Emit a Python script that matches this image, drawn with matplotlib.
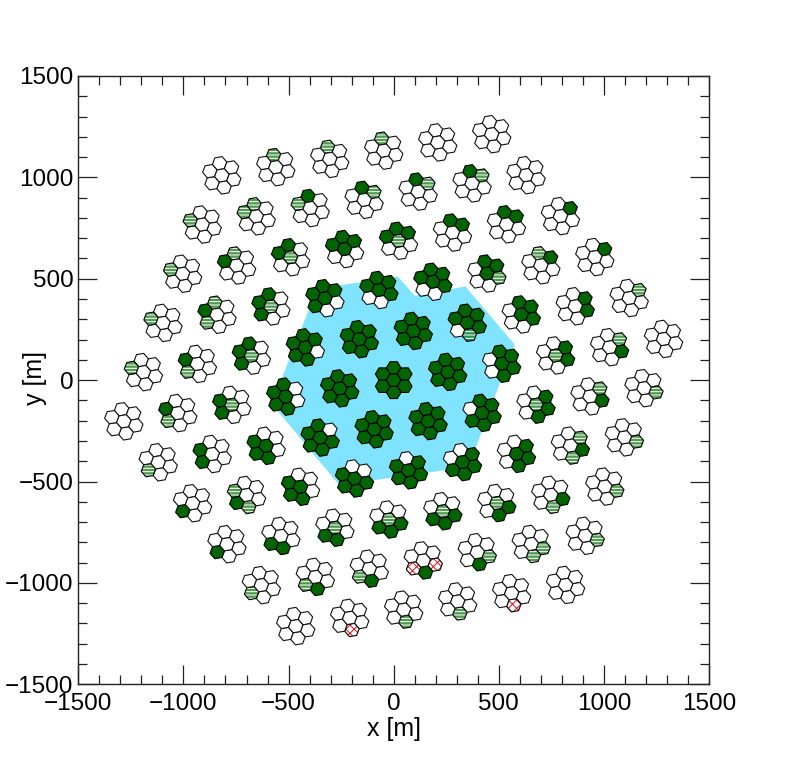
#!/usr/bin/env python
# -*- coding: utf-8 -*-

import numpy as np
import matplotlib
matplotlib.use('Agg')
import matplotlib.pyplot as plt
from matplotlib.patches import Polygon
from matplotlib.ticker import MultipleLocator

plt.rcParams['font.family'] = ['Liberation Sans', 'DejaVu Sans']
plt.rcParams['hatch.linewidth'] = 0.7

# cluster centres in metres, row by row from the top
cluster_x = [
    -817.5, -560.8, -304.1, -47.4, 209.3, 466,
    -910.7, -654, -397.3, -140.6, 116.1, 372.8, 629.5,
    -1003.9, -747.2, -490.5, -233.8, 22.9, 279.6, 536.3, 793,
    -1097.1, -840.4, -583.7, -327, -70.3, 186.4, 443.1, 699.8, 956.5,
    -1190.3, -933.6, -676.9, -420.2, -163.5, 93.2, 349.9, 606.6, 863.3, 1120,
    -1283.5, -1026.8, -770.1, -513.4, -256.7, 0, 256.7, 513.4, 770.1, 1026.8, 1283.5,
    -1120, -863.3, -606.6, -349.9, -93.2, 163.5, 420.2, 676.9, 933.6, 1190.3,
    -956.5, -699.8, -443.1, -186.4, 70.3, 327, 583.7, 840.4, 1097.1,
    -793, -536.3, -279.6, -22.9, 233.8, 490.5, 747.2, 1003.9,
    -629.5, -372.8, -116.1, 140.6, 397.3, 654, 910.7,
    -466, -209.3, 47.4, 304.1, 560.8, 817.5,
]
cluster_y = [
    1010, 1050.6, 1091.2, 1131.8, 1172.4, 1213,
    767.4, 808, 848.6, 889.2, 929.8, 970.4, 1011,
    524.8, 565.4, 606, 646.6, 687.2, 727.8, 768.4, 809,
    282.2, 322.8, 363.4, 404, 444.6, 485.2, 525.8, 566.4, 607,
    39.6, 80.2, 120.8, 161.4, 202, 242.6, 283.2, 323.8, 364.4, 405,
    -203, -162.4, -121.8, -81.2, -40.6, 0, 40.6, 81.2, 121.8, 162.4, 203,
    -405, -364.4, -323.8, -283.2, -242.6, -202, -161.4, -120.8, -80.2, -39.6,
    -607, -566.4, -525.8, -485.2, -444.6, -404, -363.4, -322.8, -282.2,
    -809, -768.4, -727.8, -687.2, -646.6, -606, -565.4, -524.8,
    -1011, -970.4, -929.8, -889.2, -848.6, -808, -767.4,
    -1213, -1172.4, -1131.8, -1091.2, -1050.6, -1010,
]

# one letter per telescope: top, upper right, lower right, bottom, lower left, upper left, centre
# . = empty, g = green, h = hatched, x = red crossed
cluster_state = [
    '.......', 'h......', 'h......', 'h......', '.......', '.......',
    '.....h.', 'h....h.', 'g....h.', 'gh.....', 'gh.....', 'gh.....', '.......',
    '.....h.', 'h....g.', 'g....gh', 'gg...gg', 'gg...gh', 'gg.....', 'gg.....', '.g.....',
    '.....h.', 'h...hg.', 'g...ggh', 'gg..ggg', 'ggg..gg', 'ggg..gg', 'ggh...g', 'hg.....', '.g.....',
    '.....h.', '....hg.', 'g...ggh', 'gg.gggg', 'ggggggg', 'ggggggg', 'gggh.gg', 'ggg...g', '.gg....', '.h.....',
    '.......', '....hg.', '....ggh', 'g..gggg', 'ggggggg', 'ggggggg', 'ggggggg', 'gggg..g', '.gg...h', '.hg....', '.......',
    '....h..', '....gg.', '...gggg', 'g.ggggg', 'ggggggg', 'ggggggg', 'ggggg.g', '.ggg..h', '.hg....', '..h....',
    '....g..', '...hgh.', '...gggg', '..ggggg', '.gggggg', '.gggg.g', '.ggg..g', '.hgh...', '..h....',
    '....g..', '...gg..', '...gg.h', '..ggg.h', '..ggg.h', '..gg..h', '..gh...', '..h....',
    '....h..', '...gh..', '...gh..', '..xgx..', '..hg...', '..hh...', '..h....',
    '.......', '...x...', '...h...', '...h...', '...x...', '.......',
]

# light blue area
area_x = [-363, -241, 20, 100, 341, 576, 505, 356, -99, -265, -580]
area_y = [456, 470, 511, 416, 462, 175, -14, -428, -494, -510, -117]

GREEN = '#006400'
BLUE = '#80E3FF'
CELL_DIST = 60.5
CELL_R = 34.9
EDGE = 0.8


def hexagon(cx, cy, angle):
    # flat sides face the neighbours, so corners sit 30 deg off the neighbour direction
    t = np.radians(angle + 30 + 60 * np.arange(6))
    return np.column_stack((cx + CELL_R * np.cos(t), cy + CELL_R * np.sin(t)))


def draw_cell(ax, pts, state):
    if state == 'g':
        ax.add_patch(Polygon(pts, fc=GREEN, ec='black', lw=EDGE, zorder=3))
    elif state == 'h':
        ax.add_patch(Polygon(pts, fc=(0, 0.42, 0, 0.68), ec='none', lw=0, zorder=3))
        ax.add_patch(Polygon(pts, fc='none', ec='white', hatch='-----', lw=0, zorder=3))
        ax.add_patch(Polygon(pts, fc='none', ec='black', lw=EDGE, zorder=3))
    elif state == 'x':
        ax.add_patch(Polygon(pts, fc='white', ec='#E0141C', hatch='xxxx', lw=0, zorder=3))
        ax.add_patch(Polygon(pts, fc='none', ec='black', lw=EDGE, zorder=3))
    else:
        ax.add_patch(Polygon(pts, fc='white', ec='#111111', lw=EDGE, zorder=3))


def draw_cluster(ax, cx, cy, state):
    # the middle cluster is not tilted like the others
    tilt = 90 if cx == 0 and cy == 0 else 100
    for i in range(6):
        a = np.radians(tilt - 60 * i)
        pts = hexagon(cx + CELL_DIST * np.cos(a), cy + CELL_DIST * np.sin(a), tilt)
        draw_cell(ax, pts, state[i])
    draw_cell(ax, hexagon(cx, cy, tilt), state[6])


fig = plt.figure(figsize=(7.88, 7.61), dpi=100)
ax = fig.add_axes([78.3 / 788, 1 - 684.3 / 761, 630.8 / 788, 608.3 / 761])

ax.fill(area_x, area_y, color=BLUE, lw=0, zorder=1)
for cx, cy, st in zip(cluster_x, cluster_y, cluster_state):
    draw_cluster(ax, cx, cy, st)

ax.set_xlim(-1500, 1500)
ax.set_ylim(-1500, 1500)
ax.xaxis.set_major_locator(MultipleLocator(500))
ax.yaxis.set_major_locator(MultipleLocator(500))
ax.xaxis.set_minor_locator(MultipleLocator(100))
ax.yaxis.set_minor_locator(MultipleLocator(100))
ax.tick_params(which='major', direction='in', top=True, right=True, length=13.6, width=0.9,
               labelsize=17.5, color='#222222', pad=6)
ax.tick_params(which='minor', direction='in', top=True, right=True, length=6.5, width=0.9, color='#222222')
for s in ax.spines.values():
    s.set_linewidth(1.0)
    s.set_color('#222222')
ax.tick_params(axis='y', which='major', pad=3.5)

ax.set_xlabel('x [m]', fontsize=18, labelpad=2)
ax.set_ylabel('y [m]', fontsize=18)
ax.yaxis.set_label_coords((47 - 78.3) / 630.8, 0.503)

fig.savefig('out.png', dpi=100)
